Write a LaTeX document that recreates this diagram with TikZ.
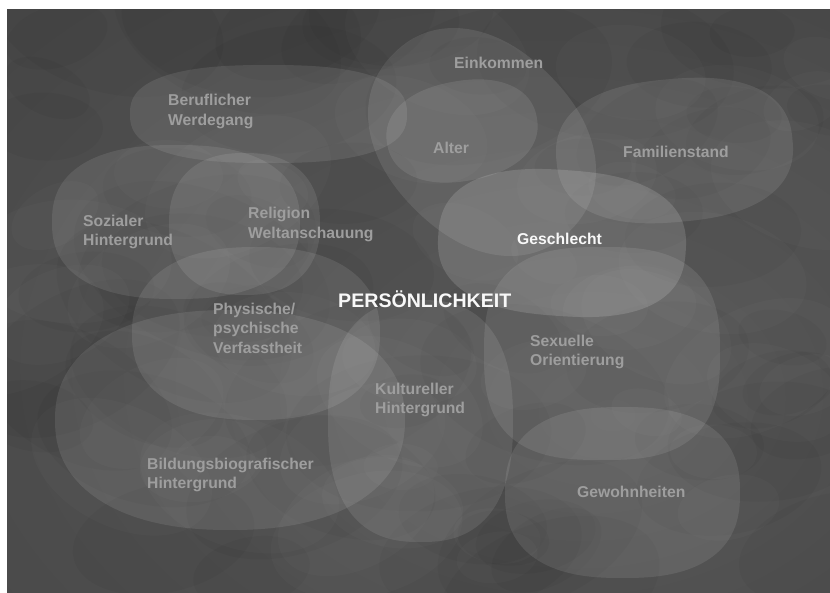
\documentclass[tikz,border=0pt]{standalone}
\usepackage{fontspec}
\setmainfont{Liberation Sans}
\definecolor{bgin}{RGB}{88,88,88}
\definecolor{bgmid}{RGB}{74,74,74}
\definecolor{bgout}{RGB}{56,56,56}
\definecolor{labelgray}{RGB}{158,158,158}
\definecolor{labelwhite}{RGB}{248,248,248}
\pgfdeclareradialshading{slatevignette}{\pgfpoint{12bp}{-10bp}}{%
  color(0bp)=(bgin); color(38bp)=(bgmid); color(75bp)=(bgout)}
\tikzset{
  blobfill/.style={fill=white, fill opacity=0.095},
  brightblob/.style={fill=white, fill opacity=0.14},
  lbl/.style={anchor=base west, inner sep=0pt, text=labelgray,
    font=\fontsize{15.7}{19.5}\selectfont\bfseries},
  lblhi/.style={lbl, text=labelwhite},
  title/.style={anchor=base west, inner sep=0pt, text=labelwhite,
    font=\fontsize{19.6}{23}\selectfont\bfseries}
}
% superellipse: centre, half width, half height, rotation, exponent 2/n
\newcommand\softblob[7][blobfill]{%
  \fill[#1,shift={(#2,#3)},rotate=#6]
    plot[domain=1:361,samples=145,variable=\t]
      ({#4*cos(\t)*abs(cos(\t))^(#7-1)},{#5*sin(\t)*abs(sin(\t))^(#7-1)}) -- cycle;
}
\begin{document}
\begin{tikzpicture}[x=1pt,y=-1pt]
\useasboundingbox (0,0) rectangle (830,592);
\fill[white] (0,0) rectangle (830,592);
% slate background
\coordinate (bgtl) at (7,9);
\coordinate (bgbr) at (830,592);
\shade[shading=slatevignette] (bgtl) rectangle (bgbr);
% mottled surface: broad faint patches
\pgfmathsetseed{4242}
\begin{scope}
  \clip (bgtl) rectangle (bgbr);
  \foreach \i in {1,...,70}{
    \pgfmathsetmacro\px{7+823*rnd}
    \pgfmathsetmacro\py{9+583*rnd}
    \pgfmathsetmacro\pr{25+55*rnd}
    \pgfmathsetmacro\pa{-30+60*rnd}
    \fill[black,opacity=0.03,rotate around={\pa:(\px,\py)}]
      (\px,\py) ellipse[x radius=\pr*1.7,y radius=\pr];
  }
  \foreach \i in {1,...,45}{
    \pgfmathsetmacro\px{7+823*rnd}
    \pgfmathsetmacro\py{9+583*rnd}
    \pgfmathsetmacro\pr{20+45*rnd}
    \pgfmathsetmacro\pa{-30+60*rnd}
    \fill[white,opacity=0.018,rotate around={\pa:(\px,\py)}]
      (\px,\py) ellipse[x radius=\pr*1.6,y radius=\pr];
  }
\end{scope}
% translucent fields
\softblob{268.5}{114}{138.5}{49}{0}{0.78}      % Beruflicher Werdegang
\softblob{482}{142}{125}{95}{-45}{0.92}        % Einkommen
\softblob{462}{131}{76}{50}{10}{0.9}           % Alter
\softblob{674.5}{150.5}{118.5}{71.5}{5}{0.82}  % Familienstand
\softblob[brightblob]{562}{243}{124}{73}{-4}{0.8} % Geschlecht
\softblob{176}{222}{124}{77}{0}{0.82}          % Sozialer Hintergrund
\softblob{244.5}{224}{75.5}{71}{0}{0.85}       % Religion
\softblob{256}{333.5}{124}{86.5}{0}{0.85}      % Physische Verfasstheit
\softblob{230}{420}{175}{110}{0}{0.88}         % Bildungsbiografie
\softblob{420.5}{421}{92.5}{121}{0}{0.8}       % Kultureller Hintergrund
\softblob{602}{353.5}{118}{106.5}{0}{0.72}     % Sexuelle Orientierung
\softblob{622.5}{492.5}{117.5}{85.5}{0}{0.8}   % Gewohnheiten
% labels
\node[lbl] (beruf-a) at (168,105.5) {Beruflicher};
\node[lbl] (beruf-b) at (168,125) {Werdegang};
\node[lbl] (einkommen) at (454,68.5) {Einkommen};
\node[lbl] (alter) at (433,153) {Alter};
\node[lbl] (famil) at (623,157) {Familienstand};
\node[lblhi] (geschl) at (517,244) {Geschlecht};
\node[lbl] (relig-a) at (248,218.5) {Religion};
\node[lbl] (relig-b) at (248,238) {Weltanschauung};
\node[lbl] (sozial-a) at (83,226) {Sozialer};
\node[lbl] (sozial-b) at (83,245.5) {Hintergrund};
\node[title] (persoen) at (338,307) {PERSÖNLICHKEIT};
\node[lbl] (physis-a) at (213,314) {Physische/};
\node[lbl] (physis-b) at (213,333.5) {psychische};
\node[lbl] (physis-c) at (213,353) {Verfasstheit};
\node[lbl] (kultur-a) at (375,394) {Kultureller};
\node[lbl] (kultur-b) at (375,413.5) {Hintergrund};
\node[lbl] (bildung-a) at (147,469) {Bildungsbiografischer};
\node[lbl] (bildung-b) at (147,488.5) {Hintergrund};
\node[lbl] (sexuell-a) at (530,346) {Sexuelle};
\node[lbl] (sexuell-b) at (530,365.5) {Orientierung};
\node[lbl] (gewohn) at (577,497) {Gewohnheiten};
\end{tikzpicture}
\end{document}
